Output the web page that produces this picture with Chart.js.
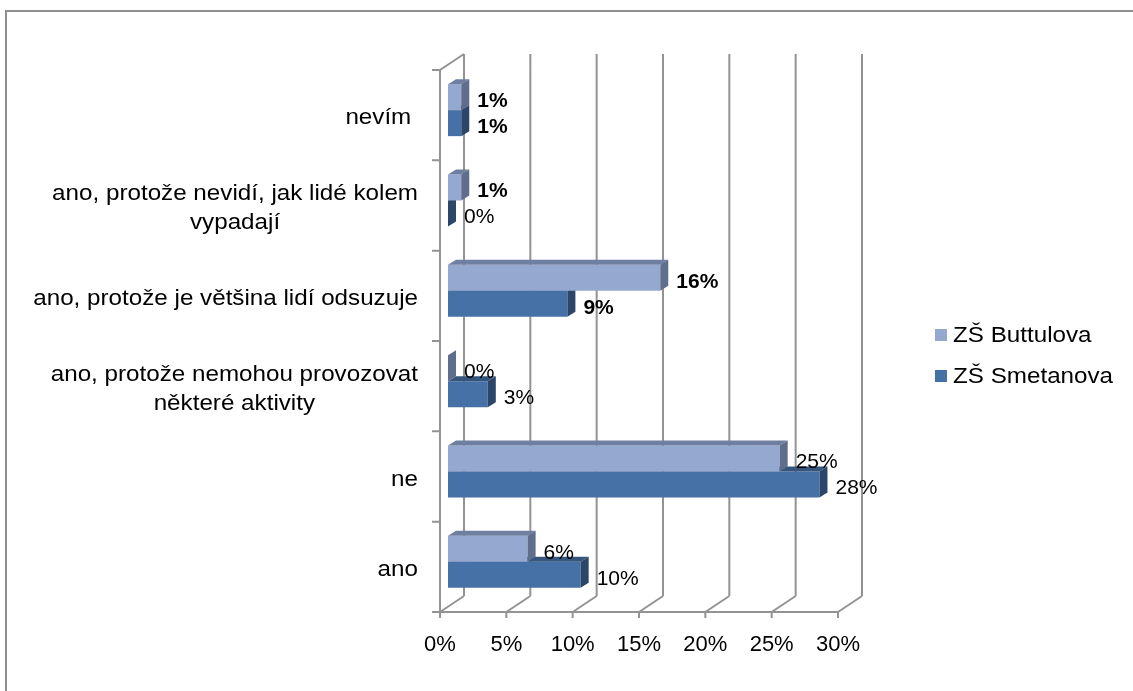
<!DOCTYPE html>
<html>
<head>
<meta charset="utf-8">
<script src="https://cdn.jsdelivr.net/npm/chart.js@4.4.1/dist/chart.umd.min.js"></script>
<style>
    html, body { margin: 0; padding: 0; background: #ffffff; }
    #wrap { position: relative; width: 1133px; height: 691px; overflow: hidden; }
    #frame {
        position: absolute; left: 5px; top: 10px; right: -10px; bottom: -10px;
        border-top: 2px solid #8e8e8e; border-left: 2px solid #8e8e8e;
        pointer-events: none;
    }
</style>
</head>
<body>
<div id="wrap">
    <canvas id="chart" width="1133" height="691"></canvas>
    <div id="frame"></div>
</div>
<script>
const CATEGORIES = [
    'nevím ',
    ['ano, protože nevidí, jak lidé kolem', 'vypadají'],
    'ano, protože je většina lidí odsuzuje',
    ['ano, protože nemohou provozovat', 'některé aktivity'],
    'ne',
    'ano'
];
const SERIES_NAMES = ['ZŠ Buttulova', 'ZŠ Smetanova'];
const BUTTULOVA = [1, 1, 16, 0, 25, 6];
const SMETANOVA = [1, 0, 9, 3, 28, 10];
const X_TICKS = [0, 5, 10, 15, 20, 25, 30];

const FONT = '"Liberation Sans", Arial, sans-serif';
const TEXT_STRETCH = 1.1;
const GRID_COLOR = '#939393';

// 3d look: back wall offset and bar depth offset
const WALL_DX = 24, WALL_DY = -16;
const BAR_DX = 8, BAR_DY = -5;

const SERIES_COLORS = [
    { front: '#95a9d0', top: '#6f7fa1', side: '#5f6e8c' },
    { front: '#4571a7', top: '#36557c', side: '#2c4669' }
];

const wallPlugin = {
    id: 'wall3d',
    beforeDatasetsDraw(chart) {
        const { ctx, chartArea: a, scales: { x, y } } = chart;
        ctx.save();
        ctx.strokeStyle = GRID_COLOR;
        ctx.lineWidth = 2;
        ctx.beginPath();
        X_TICKS.forEach(v => {
            const px = x.getPixelForValue(v);
            ctx.moveTo(px + WALL_DX, a.top + WALL_DY);
            ctx.lineTo(px + WALL_DX, a.bottom + WALL_DY);
            ctx.moveTo(px, a.bottom);
            ctx.lineTo(px + WALL_DX, a.bottom + WALL_DY);
            ctx.moveTo(px, a.bottom);
            ctx.lineTo(px, a.bottom + 6);
        });
        ctx.moveTo(a.left, a.bottom);
        ctx.lineTo(a.right, a.bottom);
        ctx.moveTo(a.left, a.bottom);
        ctx.lineTo(a.left, a.top);
        ctx.lineTo(a.left + WALL_DX, a.top + WALL_DY);
        for (let i = 0; i <= CATEGORIES.length; i++) {
            const py = y.getPixelForValue(i - 0.5);
            ctx.moveTo(a.left - 8, py);
            ctx.lineTo(a.left, py);
        }
        ctx.stroke();
        ctx.restore();
    }
};

const barDepthPlugin = {
    id: 'barDepth',
    beforeDatasetDraw(chart) {
        chart.ctx.save();
        chart.ctx.translate(BAR_DX, BAR_DY);
    },
    afterDatasetDraw(chart, args) {
        const ctx = chart.ctx;
        const colors = SERIES_COLORS[args.index];
        args.meta.data.forEach(bar => {
            const { x, y, base, height } = bar.getProps(['x', 'y', 'base', 'height'], true);
            const top = y - height / 2;
            const bottom = y + height / 2;
            ctx.fillStyle = colors.top;
            ctx.beginPath();
            ctx.moveTo(base, top);
            ctx.lineTo(x, top);
            ctx.lineTo(x + BAR_DX, top + BAR_DY);
            ctx.lineTo(base + BAR_DX, top + BAR_DY);
            ctx.closePath();
            ctx.fill();
            ctx.fillStyle = colors.side;
            ctx.beginPath();
            ctx.moveTo(x, top);
            ctx.lineTo(x + BAR_DX, top + BAR_DY);
            ctx.lineTo(x + BAR_DX, bottom + BAR_DY);
            ctx.lineTo(x, bottom);
            ctx.closePath();
            ctx.fill();
        });
        ctx.restore();
    }
};

const valueLabelPlugin = {
    id: 'valueLabels',
    afterDatasetsDraw(chart) {
        const ctx = chart.ctx;
        ctx.save();
        ctx.fillStyle = '#000000';
        ctx.textAlign = 'left';
        ctx.textBaseline = 'middle';
        chart.data.datasets.forEach((ds, di) => {
            chart.getDatasetMeta(di).data.forEach((bar, i) => {
                const value = ds.data[i];
                const weight = value > 0 && i <= 2 ? 'bold' : 'normal';
                ctx.font = `${weight} 21px ${FONT}`;
                ctx.fillText(`${value}%`, bar.x + BAR_DX * 2 + 8, bar.y - 1);
            });
        });
        ctx.restore();
    }
};

const categoryLabelPlugin = {
    id: 'categoryLabels',
    afterDraw(chart) {
        const { ctx, chartArea, scales: { y } } = chart;
        const right = chartArea.left - 22;
        ctx.save();
        ctx.font = `22px ${FONT}`;
        ctx.fillStyle = '#000000';
        ctx.textAlign = 'center';
        ctx.textBaseline = 'middle';
        CATEGORIES.forEach((label, i) => {
            const lines = Array.isArray(label) ? label : [label];
            const widest = Math.max(...lines.map(line => ctx.measureText(line).width)) * TEXT_STRETCH;
            const cx = right - widest / 2;
            const cy = y.getPixelForValue(i) + 3;
            lines.forEach((line, k) => {
                ctx.save();
                ctx.translate(cx, cy + (k - (lines.length - 1) / 2) * 29);
                ctx.scale(TEXT_STRETCH, 1);
                ctx.fillText(line, 0, 0);
                ctx.restore();
            });
        });
        ctx.restore();
    }
};

const sideLegendPlugin = {
    id: 'sideLegend',
    afterDraw(chart) {
        const ctx = chart.ctx;
        ctx.save();
        ctx.font = `22px ${FONT}`;
        ctx.textAlign = 'left';
        ctx.textBaseline = 'middle';
        chart.data.datasets.forEach((ds, i) => {
            const top = 329 + i * 41;
            ctx.fillStyle = ds.backgroundColor;
            ctx.fillRect(935, top, 12, 12);
            ctx.fillStyle = '#000000';
            ctx.save();
            ctx.translate(953, top + 7);
            ctx.scale(TEXT_STRETCH, 1);
            ctx.fillText(ds.label, 0, 0);
            ctx.restore();
        });
        ctx.restore();
    }
};

new Chart(document.getElementById('chart'), {
    type: 'bar',
    data: {
        labels: CATEGORIES,
        datasets: [
            { label: SERIES_NAMES[0], data: BUTTULOVA, backgroundColor: SERIES_COLORS[0].front },
            { label: SERIES_NAMES[1], data: SMETANOVA, backgroundColor: SERIES_COLORS[1].front }
        ]
    },
    options: {
        indexAxis: 'y',
        responsive: false,
        animation: false,
        layout: { padding: { left: 0, top: 70, right: 295, bottom: 0 } },
        datasets: {
            bar: { borderWidth: 0, barPercentage: 1, categoryPercentage: 0.575, clip: false }
        },
        scales: {
            x: {
                min: 0,
                max: 30,
                afterBuildTicks(scale) {
                    scale.ticks = X_TICKS.map(value => ({ value }));
                },
                afterFit(scale) {
                    scale.height = 79;
                },
                grid: { display: false, drawTicks: false },
                border: { display: false },
                ticks: {
                    padding: 20,
                    color: '#000000',
                    font: { family: FONT, size: 22 },
                    maxRotation: 0,
                    autoSkip: false,
                    callback(value) {
                        return `${value}%`;
                    }
                }
            },
            y: {
                afterFit(scale) {
                    scale.width = 440;
                },
                grid: { display: false, drawTicks: false },
                border: { display: false },
                ticks: { display: false }
            }
        },
        plugins: {
            legend: { display: false },
            tooltip: { enabled: false }
        }
    },
    plugins: [wallPlugin, barDepthPlugin, valueLabelPlugin, categoryLabelPlugin, sideLegendPlugin]
});
</script>
</body>
</html>
